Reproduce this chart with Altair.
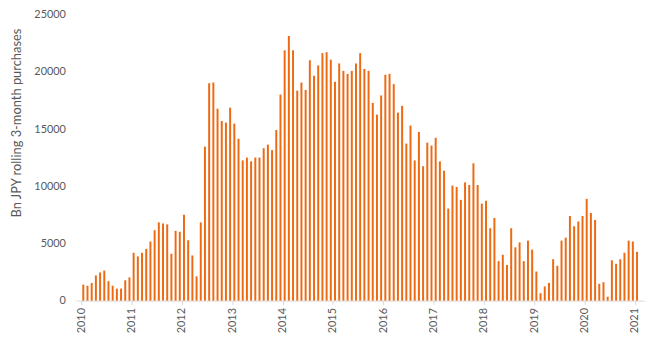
import altair as alt
import pandas as pd

years = list(range(2010, 2022))
values_2010 = [1400, 1300, 1550, 2200, 2460, 2630, 1700, 1300, 1050, 1050, 1780, 2030]
values_2011 = [4180, 3870, 4180, 4520, 5170, 6160, 6840, 6750, 6670, 4100, 6100, 6020]
values_2012 = [7510, 5280, 3950, 2120, 6840, 13470, 19010, 19070, 16780, 15710, 15570, 16870]
values_2013 = [15480, 14150, 12260, 12510, 12180, 12510, 12510, 13330, 13640, 13160, 14920, 18020]
values_2014 = [21890, 23140, 21890, 18360, 19070, 18420, 21020, 19660, 20570, 21640, 21720, 21070]
values_2015 = [19150, 20740, 20090, 19830, 20090, 20740, 21640, 20260, 20090, 17290, 16270, 17940]
values_2016 = [19750, 19830, 18930, 16440, 17030, 13730, 15310, 12260, 14750, 11750, 13810, 13560]
values_2017 = [14240, 12180, 11360, 8050, 10060, 9940, 8810, 10340, 10110, 12010, 10110, 8480]
values_2018 = [8730, 6330, 7230, 3450, 4010, 3110, 6330, 4660, 5090, 3450, 5250, 4460]
values_2019 = [2540, 650, 1240, 1550, 3620, 3050, 5250, 5510, 7400, 6500, 6920, 7400]
values_2020 = [8900, 7660, 7060, 1470, 1610, 340, 3530, 3220, 3620, 4180, 5250, 5170]
values_2021 = [4270]

series = [values_2010, values_2011, values_2012, values_2013, values_2014, values_2015,
          values_2016, values_2017, values_2018, values_2019, values_2020, values_2021]

rows = []
for yr, vals in zip(years, series):
    for m, v in enumerate(vals):
        rows.append({"t": yr + (m + 0.5) / 12.0, "value": v})
df = pd.DataFrame(rows)

font = "Lato"
grey = "#595959"

chart = alt.Chart(df).mark_bar(size=2.0, color="#ED6A12").encode(
    x=alt.X("t:Q",
            scale=alt.Scale(domain=[2010, 2021 + 1 / 12.0], nice=False, zero=False),
            axis=alt.Axis(values=years, format="d", labelAngle=270, labelAlign="right",
                          labelBaseline="middle", labelPadding=3, tickSize=4,
                          tickColor="#D9D9D9", domainColor="#D9D9D9", grid=False,
                          labelColor=grey, labelFont=font, labelFontSize=11, title=None)),
    y=alt.Y("value:Q",
            scale=alt.Scale(domain=[0, 25000], nice=False),
            axis=alt.Axis(values=[0, 5000, 10000, 15000, 20000, 25000], format="d",
                          domain=False, ticks=False, tickSize=0, grid=False, labelPadding=11,
                          labelColor=grey, labelFont=font, labelFontSize=11,
                          title="Bn JPY rolling 3-month purchases", titleColor=grey,
                          titleFont=font, titleFontSize=13, titleFontWeight="normal",
                          titleAngle=270, titleBaseline="top", titleAlign="center",
                          titleX=-66, titleY=109)),
).properties(
    width=574, height=289,
    autosize=alt.AutoSizeParams(type="none"),
    padding={"left": 69, "top": 5, "right": 8, "bottom": 38},
).configure_view(stroke=None)

chart.save("out.html", embed_options={"renderer": "svg", "actions": False})
